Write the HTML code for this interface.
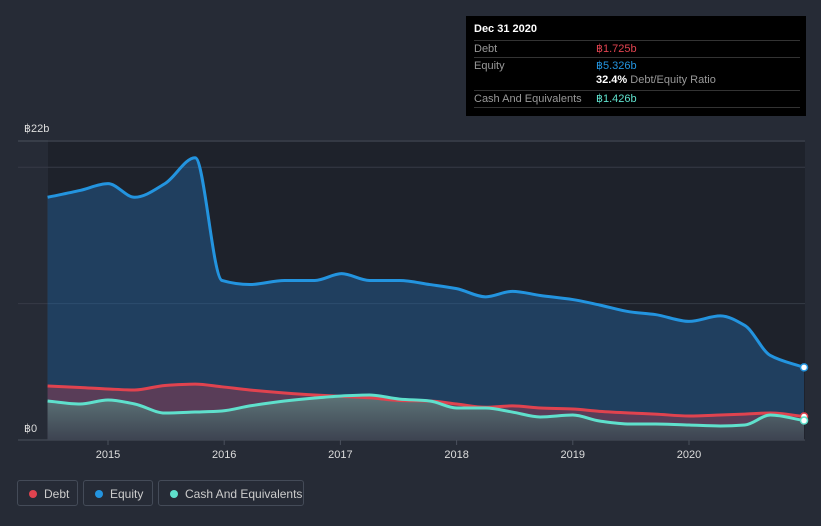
<!DOCTYPE html>
<html><head><meta charset="utf-8"><style>
body{margin:0;background:#262b36;font-family:"Liberation Sans",sans-serif;}
#wrap{position:relative;width:821px;height:526px;overflow:hidden;}
.tt{position:absolute;left:466px;top:16px;width:340px;height:100px;background:#000;color:#fff;font-size:11px}
.tt .r{position:absolute;left:8px;width:326px;border-top:1px solid #333;height:16px;line-height:16px}
.lab{color:#999}
.leg{position:absolute;top:480px;height:26px;border:1px solid #444b58;border-radius:3px;color:#ccc;font-size:12px;line-height:26px;box-sizing:border-box;padding-left:26px}
.leg i{position:absolute;left:11px;top:9px;width:8px;height:8px;border-radius:50%}
</style></head><body>
<div id="wrap">
<svg id="svg" width="821" height="526" style="position:absolute;left:0;top:0">
<defs>
<linearGradient id="gc" x1="0" y1="0" x2="0" y2="1"><stop offset="0" stop-color="#5e7b7c" stop-opacity="0.9"/><stop offset="1" stop-color="#3a4450" stop-opacity="0.9"/></linearGradient>
</defs>
<rect x="48" y="140" width="757" height="300" fill="#1e222b"/>
<g id="grid"></g><g id="areas"></g><g id="lines"></g><g id="axis"></g>
</svg>
<div class="tt">
<div style="position:absolute;left:8px;top:7px;font-weight:bold">Dec 31 2020</div>
<div class="r" style="top:24px"><span class="lab">Debt</span><span style="position:absolute;left:122px;color:#e0434f">฿1.725b</span></div>
<div class="r" style="top:41px"><span class="lab">Equity</span><span style="position:absolute;left:122px;color:#2394df">฿5.326b</span></div>
<div style="position:absolute;left:130px;top:58px"><b>32.4%</b> <span class="lab">Debt/Equity Ratio</span></div>
<div class="r" style="top:74px;border-bottom:1px solid #333"><span class="lab">Cash And Equivalents</span><span style="position:absolute;left:122px;color:#5fe0cc">฿1.426b</span></div>
</div>
<div class="leg" style="left:17px;width:61px"><i style="background:#e0434f"></i>Debt</div>
<div class="leg" style="left:83px;width:70px"><i style="background:#2394df"></i>Equity</div>
<div class="leg" style="left:158px;width:146px"><i style="background:#5fe0cc"></i>Cash And Equivalents</div>
</div>
<script>
const dates=[2014.48,2014.76,2015.0,2015.23,2015.49,2015.75,2015.98,2016.22,2016.52,2016.78,2017.01,2017.25,2017.51,2017.77,2018.0,2018.25,2018.48,2018.72,2019.0,2019.23,2019.49,2019.71,2020.0,2020.27,2020.48,2020.70,2020.99];
const equity=[17.8,18.3,18.8,17.8,18.8,20.7,11.7,11.4,11.7,11.7,12.2,11.7,11.7,11.4,11.1,10.5,10.9,10.6,10.3,9.9,9.4,9.2,8.7,9.1,8.4,6.2,5.326];
const debt=[3.96,3.85,3.74,3.67,4.0,4.1,3.9,3.67,3.45,3.3,3.2,3.1,2.9,2.86,2.64,2.4,2.5,2.35,2.27,2.1,1.98,1.9,1.76,1.83,1.9,1.98,1.725];
const cash=[2.86,2.64,2.93,2.64,1.98,2.05,2.13,2.5,2.86,3.08,3.23,3.3,3.0,2.86,2.35,2.35,2.05,1.69,1.83,1.39,1.17,1.17,1.1,1.03,1.1,1.83,1.426];
const yTicks=[0,10,20];const yLabels=["฿0","฿22b"];const xTicks=[2015,2016,2017,2018,2019,2020];
const X=t=>108+(t-2015)*116.2, Y=v=>440-v*13.636;
const NS="http://www.w3.org/2000/svg";
function mk(tag,attrs,parent){const e=document.createElementNS(NS,tag);for(const k in attrs)e.setAttribute(k,attrs[k]);document.getElementById(parent).appendChild(e);return e;}
function path(vals){const p=dates.map((d,i)=>[X(d),Y(vals[i])]);const n=p.length;
const dx=[],sl=[];for(let i=0;i<n-1;i++){dx.push(p[i+1][0]-p[i][0]);sl.push((p[i+1][1]-p[i][1])/dx[i]);}
const m=[sl[0]];for(let i=1;i<n-1;i++){if(sl[i-1]*sl[i]<=0)m.push(0);else{const w1=2*dx[i]+dx[i-1],w2=dx[i]+2*dx[i-1];m.push((w1+w2)/(w1/sl[i-1]+w2/sl[i]));}}m.push(sl[n-2]);
let s="M"+p[0][0]+","+p[0][1];
for(let i=0;i<n-1;i++){const h=dx[i]/3;s+=` C${p[i][0]+h},${p[i][1]+m[i]*h} ${p[i+1][0]-h},${p[i+1][1]-m[i+1]*h} ${p[i+1][0]},${p[i+1][1]}`;}return s;}
yTicks.forEach(v=>{const g=mk('line',{x1:18,x2:805,y1:Y(v),y2:Y(v),stroke:v==0?'#4a505c':'#363b46'},'grid');

});
const topLine=mk('line',{x1:18,x2:805,y1:141,y2:141,stroke:'#4a505c'},'grid');


const base=X(dates[0]),end=X(dates[dates.length-1]);
const series=[[equity,'#2394df','rgba(35,100,160,0.45)','equity'],[debt,'#e0434f','rgba(160,60,80,0.45)','debt'],[cash,'#5fe0cc','url(#gc)','cash']];
series.forEach(([v,c,f,n])=>{const d=path(v);
const a=mk('path',{d:d+` L${end},440 L${base},440 Z`,fill:f},'areas');


const l=mk('path',{d:d,fill:'none',stroke:c,'stroke-width':3},'lines');


const dot=mk('circle',{cx:end,cy:Y(v[v.length-1]),r:3.5,fill:'#fff',stroke:c,'stroke-width':1.5},'lines');

});
xTicks.forEach(t=>{const tk=mk('line',{x1:X(t),x2:X(t),y1:440,y2:445,stroke:'#4a505c'},'axis');


const tx=mk('text',{x:X(t),y:458,fill:'#ddd','font-size':11,'text-anchor':'middle'},'axis');tx.textContent=t;

});
[[yLabels[1],132],[yLabels[0],432]].forEach(([s,y])=>{const tx=mk('text',{x:24,y:y,fill:'#ddd','font-size':11},'axis');tx.textContent=s;

});
</script>
</body></html>
